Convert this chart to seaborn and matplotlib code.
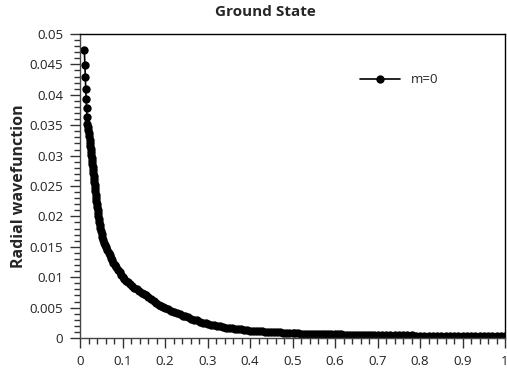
import matplotlib
matplotlib.use("Agg")
import matplotlib.pyplot as plt
from matplotlib.ticker import MultipleLocator, FuncFormatter
import seaborn as sns

# radial grid points and wavefunction values
RADIUS = [
    0.0102, 0.0114, 0.0126, 0.0136, 0.0145, 0.0154, 0.0163, 0.0172,
    0.0180, 0.0190, 0.0201, 0.0212, 0.0224, 0.0233, 0.0242, 0.0251, 0.0260, 0.0268,
    0.0276, 0.0285, 0.0293, 0.0300, 0.0307, 0.0314, 0.0321, 0.0328, 0.0336, 0.0344,
    0.0352, 0.0360, 0.0368, 0.0377, 0.0386, 0.0394, 0.0403, 0.0412, 0.0421, 0.0430,
    0.0440, 0.0450, 0.0462, 0.0475, 0.0490, 0.0506, 0.0524, 0.0544,
    0.0575, 0.0598, 0.0622, 0.0646, 0.0672, 0.0698, 0.0725, 0.0753,
    0.0787, 0.0822, 0.0857, 0.0893, 0.0930, 0.0966, 0.1003, 0.1040, 0.1080,
    0.113, 0.118, 0.123, 0.128, 0.133, 0.139, 0.145, 0.150, 0.155,
    0.161, 0.167, 0.173, 0.179, 0.185, 0.191, 0.196, 0.201,
    0.208, 0.215, 0.222, 0.229, 0.236, 0.242, 0.248,
    0.255, 0.262, 0.269, 0.276, 0.283, 0.290, 0.296, 0.302,
    0.309, 0.316, 0.323, 0.330, 0.337, 0.344, 0.351, 0.358, 0.365, 0.372, 0.379, 0.386, 0.393, 0.400,
    0.407, 0.414, 0.421, 0.428, 0.435, 0.442, 0.449, 0.456, 0.463, 0.470, 0.477, 0.484, 0.491, 0.500,
    0.507, 0.514, 0.521, 0.528, 0.535, 0.542, 0.549, 0.556, 0.563, 0.570, 0.577, 0.584, 0.591, 0.600,
    0.607, 0.614, 0.621, 0.628, 0.635, 0.642, 0.649, 0.656, 0.663, 0.670, 0.677, 0.684, 0.691, 0.700,
    0.71, 0.72, 0.73, 0.74, 0.75, 0.76, 0.77, 0.78, 0.79, 0.80,
    0.81, 0.82, 0.83, 0.84, 0.85, 0.86, 0.87, 0.88, 0.89, 0.90,
    0.91, 0.92, 0.93, 0.94, 0.95, 0.96, 0.97, 0.98, 0.99, 1.00,
]
PSI_M0 = [
    0.0473, 0.0449, 0.0429, 0.0409, 0.0393, 0.0378, 0.0364, 0.0352,
    0.0347, 0.0342, 0.0337, 0.0332, 0.0326, 0.0321, 0.0316, 0.0311, 0.0306, 0.0301,
    0.0296, 0.0291, 0.0286, 0.0281, 0.0276, 0.0271, 0.0266, 0.0261, 0.0256, 0.0251,
    0.0246, 0.0241, 0.0236, 0.0231, 0.0226, 0.0221, 0.0216, 0.0211, 0.0206, 0.0201,
    0.0196, 0.0191, 0.0186, 0.0181, 0.0176, 0.0171, 0.0166, 0.0161,
    0.0157, 0.0153, 0.0149, 0.0145, 0.0140, 0.0136, 0.0132, 0.0128,
    0.0124, 0.0120, 0.0116, 0.0112, 0.0108, 0.0104, 0.0100, 0.0097, 0.0094,
    0.0092, 0.0089, 0.0086, 0.0083, 0.0080, 0.0077, 0.0074, 0.0072, 0.0070,
    0.0067, 0.0064, 0.0061, 0.0058, 0.0055, 0.0053, 0.0051, 0.0049,
    0.0047, 0.0045, 0.0043, 0.0041, 0.0039, 0.0037, 0.0036,
    0.0034, 0.0032, 0.0030, 0.0029, 0.0027, 0.0025, 0.0024, 0.0023,
    0.0022, 0.0021, 0.0020, 0.0019, 0.0018, 0.0017, 0.0017, 0.0016, 0.0015, 0.0015, 0.0014, 0.0013, 0.0013, 0.0012,
    0.00118, 0.00115, 0.00112, 0.00109, 0.00106, 0.00103, 0.00100, 0.00097, 0.00094, 0.00091, 0.00088, 0.00085, 0.00082, 0.00079,
    0.00077, 0.00076, 0.00074, 0.00073, 0.00072, 0.00070, 0.00069, 0.00068, 0.00066, 0.00065, 0.00064, 0.00063, 0.00062, 0.00060,
    0.00059, 0.00058, 0.00057, 0.00056, 0.00055, 0.00054, 0.00053, 0.00052, 0.00051, 0.00050, 0.00049, 0.00048, 0.00047, 0.00046,
    0.00045, 0.00045, 0.00044, 0.00044, 0.00043, 0.00043, 0.00042, 0.00042, 0.00041, 0.00041,
    0.00040, 0.00040, 0.00039, 0.00039, 0.00038, 0.00038, 0.00037, 0.00037, 0.00036, 0.00036,
    0.00035, 0.00035, 0.00034, 0.00034, 0.00033, 0.00033, 0.00032, 0.00032, 0.00031, 0.00031,
]
SERIES_LABEL = "m=0"


def g_format(v, pos):
    return f"{v:g}"


def main():
    sns.set_style("ticks")
    plt.rcParams["font.family"] = ["Open Sans", "DejaVu Sans"]

    fig = plt.figure(figsize=(5.07, 3.74), dpi=100)
    ax = fig.add_axes([80 / 507, 1 - 338 / 374, 425 / 507, 304 / 374])

    sns.lineplot(x=RADIUS, y=PSI_M0, ax=ax, sort=False, estimator=None,
                 color="black", linewidth=1.2, marker="o", markersize=6,
                 markeredgewidth=0, label=SERIES_LABEL)

    ax.set_xlim(0, 1)
    ax.set_ylim(0, 0.05)
    ax.xaxis.set_major_locator(MultipleLocator(0.1))
    ax.xaxis.set_minor_locator(MultipleLocator(0.02))
    ax.yaxis.set_major_locator(MultipleLocator(0.005))
    ax.yaxis.set_minor_locator(MultipleLocator(0.001))
    ax.xaxis.set_major_formatter(FuncFormatter(g_format))
    ax.yaxis.set_major_formatter(FuncFormatter(g_format))

    ax.tick_params(which="both", direction="out", color="#333333", width=1,
                   labelsize=9.5, labelcolor="#222222", top=False, right=False)
    ax.tick_params(which="major", length=7, pad=5)
    ax.tick_params(which="minor", length=4)

    for side in ["top", "right"]:
        ax.spines[side].set_color("black")
    for side in ["left", "bottom"]:
        ax.spines[side].set_color("#444444")
    for sp in ax.spines.values():
        sp.set_linewidth(1)

    ax.set_xlabel("")
    ax.set_ylabel("Radial wavefunction", fontsize=11.5, fontweight="bold", labelpad=2)
    fig.text(265 / 507, 1 - 12 / 374, "Ground State", ha="center", va="center",
             fontsize=11, fontweight="bold")

    ax.legend(loc="upper right", bbox_to_anchor=(0.87, 0.91), frameon=False,
              fontsize=9.5, handlelength=3.0, handletextpad=0.8)

    fig.savefig("out.png", dpi=100)


if __name__ == "__main__":
    main()
